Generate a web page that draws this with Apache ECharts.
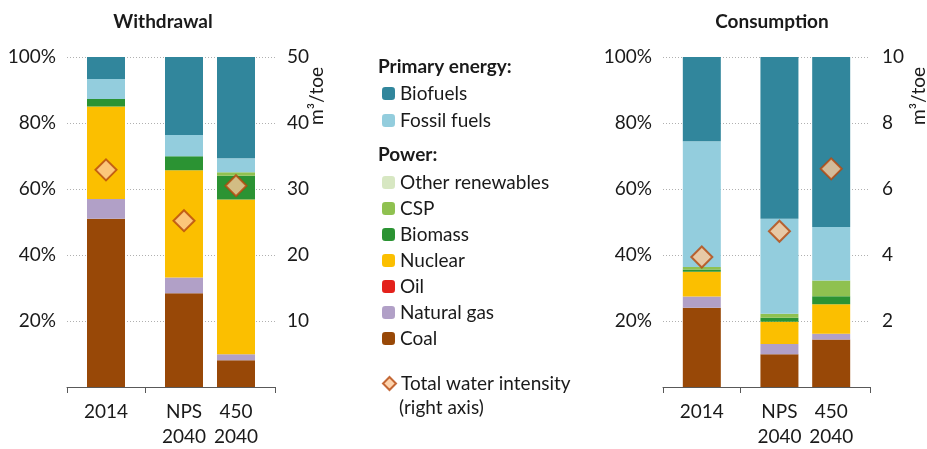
<!DOCTYPE html>
<html>
<head>
<meta charset="utf-8">
<script src="https://cdn.jsdelivr.net/npm/echarts@6/dist/echarts.min.js"></script>
<style>
  html, body { margin: 0; padding: 0; background: #fff; }
  #chart { width: 927px; height: 449px; }
</style>
</head>
<body>
<div id="chart"></div>
<script>
// categories and slot positions (empty slots give the gap between 2014 and 2040)
const categories = ['2014', 'NPS\n2040', '450\n2040'];
const slots = [1, 4, 6];
const slotCount = 8;

// withdrawal shares (%)
const wCoal = [51, 28.4, 8.1];
const wGas = [6, 4.8, 1.8];
const wOil = [0, 0, 0];
const wNuclear = [28, 32.5, 46.9];
const wBiomass = [2.3, 4.2, 7.2];
const wCsp = [0, 0, 1.1];
const wOther = [0, 0, 0];
const wFossil = [6, 6.5, 4.2];
const wBiofuels = [6.7, 23.6, 30.7];
const wIntensity = [32.9, 25.2, 30.5];   // m3/toe

// consumption shares (%)
const cCoal = [24, 9.9, 14.4];
const cGas = [3.4, 3.1, 1.7];
const cOil = [0, 0, 0];
const cNuclear = [7.5, 6.8, 9.0];
const cBiomass = [0.7, 1.2, 2.4];
const cCsp = [0.8, 1.2, 4.8];
const cOther = [0, 0, 0];
const cFossil = [38.1, 28.8, 16.2];
const cBiofuels = [25.5, 49, 51.5];
const cIntensity = [3.94, 4.72, 6.61];   // m3/toe

const leftTicks = [0, 20, 40, 60, 80, 100];
const wRightTicks = [0, 10, 20, 30, 40, 50];
const cRightTicks = [0, 2, 4, 6, 8, 10];

const names = ['Coal', 'Natural gas', 'Oil', 'Nuclear', 'Biomass', 'CSP', 'Other renewables', 'Fossil fuels', 'Biofuels'];
const colors = ['#984807', '#b1a0c7', '#e3211b', '#fbbf00', '#2b9333', '#8fc150', '#d7e7c2', '#93cddd', '#31869c'];
const wData = [wCoal, wGas, wOil, wNuclear, wBiomass, wCsp, wOther, wFossil, wBiofuels];
const cData = [cCoal, cGas, cOil, cNuclear, cBiomass, cCsp, cOther, cFossil, cBiofuels];

const FONT = 'Lato';
const FS = 19;
const spread = vals => {
  const out = new Array(slotCount).fill('-');
  slots.forEach((s, i) => { out[s] = vals[i]; });
  return out;
};
const xLabels = (() => {
  const out = new Array(slotCount).fill('');
  slots.forEach((s, i) => { out[s] = categories[i]; });
  return out;
})();

const chart = echarts.init(document.getElementById('chart'));

const xAxisFor = gridIndex => ({
  type: 'category',
  gridIndex: gridIndex,
  data: xLabels,
  axisLine: { show: true, lineStyle: { color: '#595959', width: 1 } },
  axisTick: { show: true, length: 6, lineStyle: { color: '#595959', width: 1 },
    interval: idx => idx === 0 || idx === 3 },
  axisLabel: { interval: 0, color: '#1a1a1a', fontFamily: FONT, fontSize: FS, lineHeight: 25, margin: 12 },
  splitLine: { show: false }
});

const leftAxisFor = gridIndex => ({
  type: 'value',
  gridIndex: gridIndex,
  min: leftTicks[0], max: leftTicks[leftTicks.length - 1], interval: 20,
  position: 'left',
  axisLine: { show: false },
  axisTick: { show: false },
  axisLabel: { color: '#1a1a1a', fontFamily: FONT, fontSize: FS, margin: 11,
    formatter: v => v === 0 ? '' : v + '%' },
  splitLine: { lineStyle: { color: '#b0b0b0', type: [1, 2], width: 1 } }
});

const rightAxisFor = (gridIndex, ticks) => ({
  type: 'value',
  gridIndex: gridIndex,
  min: ticks[0], max: ticks[ticks.length - 1], interval: ticks[1] - ticks[0],
  position: 'right',
  axisLine: { show: false },
  axisTick: { show: false },
  axisLabel: { color: '#1a1a1a', fontFamily: FONT, fontSize: FS, margin: 12,
    formatter: v => v === 0 ? '' : String(v) },
  splitLine: { show: false }
});

const series = [];
const addBars = (data, xi, yi, stack) => {
  data.forEach((vals, k) => {
    series.push({
      name: names[k], type: 'bar', stack: stack,
      xAxisIndex: xi, yAxisIndex: yi,
      barWidth: 38,
      itemStyle: { color: colors[k] },
      data: spread(vals)
    });
  });
};
addBars(wData, 0, 0, 'w');
addBars(cData, 1, 2, 'c');

const diamond = (vals, xi, yi) => ({
  name: 'Total water intensity', type: 'scatter',
  xAxisIndex: xi, yAxisIndex: yi,
  symbol: 'diamond', symbolSize: 21, z: 5,
  itemStyle: { color: '#fcc898', borderColor: '#b5470d', borderWidth: 2 },
  data: spread(vals)
});
series.push(diamond(wIntensity, 0, 1));
series.push(diamond(cIntensity, 1, 3));

const legendBase = {
  orient: 'vertical', left: 377, selectedMode: false,
  itemWidth: 13, itemHeight: 13, itemGap: 7,
  textStyle: { color: '#1a1a1a', fontFamily: FONT, fontSize: FS, lineHeight: 17 }
};

const txt = (text, x, y, bold, align) => ({
  type: 'text', x: x, y: y,
  style: { text: text, font: (bold ? 'bold ' : '') + FS + 'px ' + FONT, fill: '#1a1a1a',
    textAlign: align || 'left', textVerticalAlign: 'middle' }
});

const option = {
  animation: false,
  backgroundColor: '#fff',
  grid: [
    { left: 67, right: 652, top: 57, bottom: 56 },
    { left: 663, right: 57, top: 57, bottom: 56 }
  ],
  xAxis: [xAxisFor(0), xAxisFor(1)],
  yAxis: [leftAxisFor(0), rightAxisFor(0, wRightTicks), leftAxisFor(1), rightAxisFor(1, cRightTicks)],
  legend: [
    Object.assign({}, legendBase, { top: 79, itemGap: 8, data: ['Biofuels', 'Fossil fuels'] }),
    Object.assign({}, legendBase, { top: 168, data: ['Other renewables', 'CSP', 'Biomass', 'Nuclear', 'Oil', 'Natural gas', 'Coal'] }),
    Object.assign({}, legendBase, { top: 369, data: ['Total water intensity'] })
  ],
  graphic: [
    txt('Withdrawal', 163, 22, true, 'center'),
    txt('Consumption', 772, 22, true, 'center'),
    txt('Primary energy:', 378, 67, true),
    txt('Power:', 378, 155, true),
    txt('(right axis)', 399, 408, false),
    Object.assign(txt('m³/toe', 317, 96, false, 'center'), { rotation: Math.PI / 2 }),
    Object.assign(txt('m³/toe', 919, 96, false, 'center'), { rotation: Math.PI / 2 })
  ],
  series: series
};

chart.setOption(option);
</script>
</body>
</html>
